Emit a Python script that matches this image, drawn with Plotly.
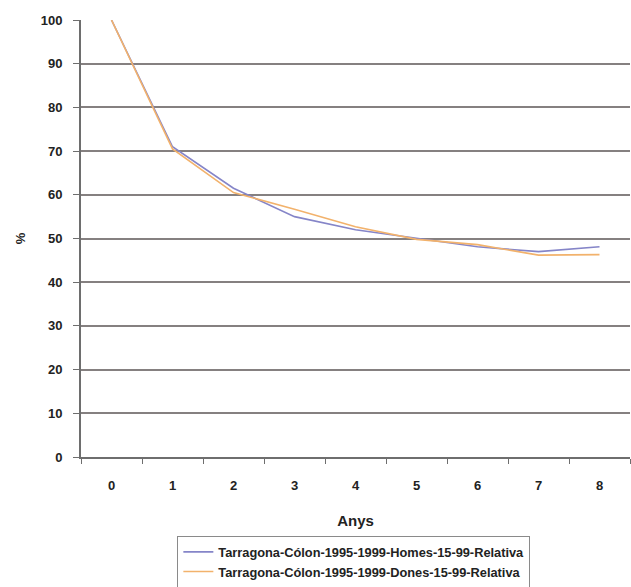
import plotly.graph_objects as go

# Relative survival (%) by years since start, Tarragona-Cólon 1995-1999
anys = ["0", "1", "2", "3", "4", "5", "6", "7", "8"]
homes = [100, 71, 61.5, 55, 52, 50, 48.1, 47, 48.1]
dones = [100, 70.5, 60.5, 56.7, 52.7, 49.8, 48.6, 46.2, 46.3]

serie_homes = "Tarragona-Cólon-1995-1999-Homes-15-99-Relativa"
serie_dones = "Tarragona-Cólon-1995-1999-Dones-15-99-Relativa"
y_ticks = list(range(0, 101, 10))

fig = go.Figure()
fig.add_trace(go.Scatter(x=anys, y=homes, mode="lines", name=serie_homes,
                         line=dict(color="#8585c8", width=1.6)))
fig.add_trace(go.Scatter(x=anys, y=dones, mode="lines", name=serie_dones,
                         line=dict(color="#f2b26c", width=1.6)))

bold = dict(family="Liberation Sans", size=13, color="#222222", weight="bold")

fig.update_layout(
    width=631, height=587,
    margin=dict(l=81, r=1, t=20, b=130, autoexpand=False),
    paper_bgcolor="white", plot_bgcolor="white",
    showlegend=True,
    legend=dict(
        x=0.497, xanchor="center", y=-0.181, yanchor="top",
        bordercolor="#8a8a8a", borderwidth=1, bgcolor="white",
        font=dict(family="Liberation Sans", size=12.8, color="#222222", weight="bold"),
        tracegroupgap=0, itemwidth=30,
    ),
    xaxis=dict(
        type="category", tickson="boundaries", range=[-0.5, 8.5], automargin=False,
        showline=True, linecolor="#6e6e6e", linewidth=2,
        ticks="outside", ticklen=5, tickcolor="#6e6e6e", tickwidth=1,
        showgrid=False, tickfont=bold, ticklabelstandoff=15,
        title=dict(text="Anys", font=dict(family="Liberation Sans", size=15,
                                          color="#222222", weight="bold"), standoff=24),
    ),
    yaxis=dict(
        range=[0, 100], tickvals=y_ticks, automargin=False,
        showline=True, linecolor="#6e6e6e", linewidth=2,
        ticks="outside", ticklen=6, tickcolor="#6e6e6e", tickwidth=1,
        showgrid=True, gridcolor="#858080", gridwidth=2,
        zeroline=False, tickfont=bold, ticklabelstandoff=8,
        title=dict(text="%", font=dict(family="Liberation Sans", size=13,
                                       color="#222222", weight="bold"), standoff=12),
    ),
)

fig.write_html("out.html")
